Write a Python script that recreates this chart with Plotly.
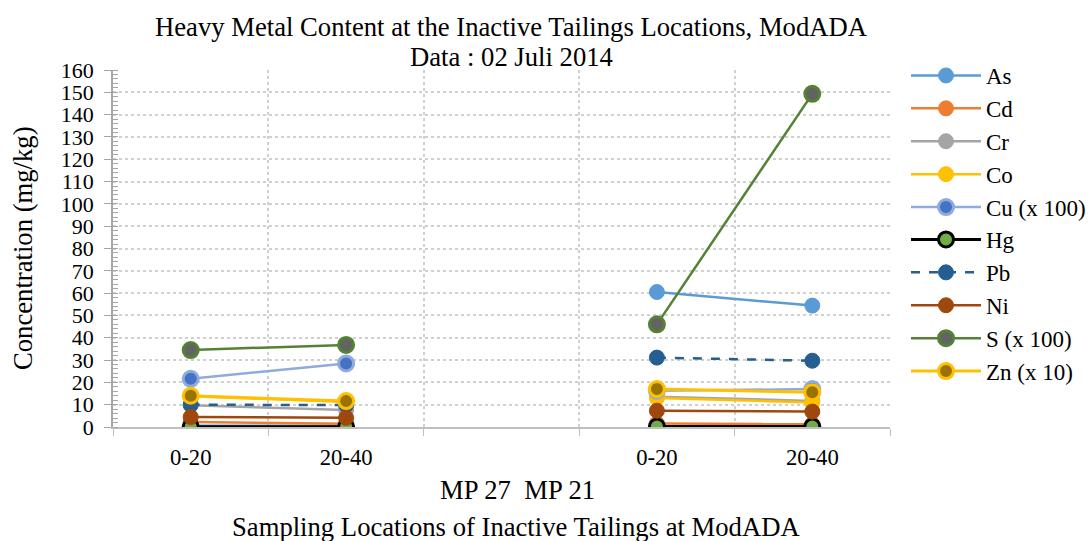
import plotly.graph_objects as go

categories = ["0-20", "20-40", "", "0-20", "20-40"]
locations = ["MP 27", "MP 21"]

# values per category slot (None for the empty slot)
As = [0.6, 0.6, None, 60.5, 54.4]
Cd = [2.2, 1.5, None, 1.6, 1.3]
Cr = [9.8, 7.6, None, 13.6, 11.7]
Co = [13.8, 11.2, None, 13.0, 11.0]
Cu = [21.6, 28.5, None, 16.2, 17.0]
Hg = [0.1, 0.1, None, 0.2, 0.2]
Pb = [10.0, 9.8, None, 31.1, 29.7]
Ni = [4.5, 4.1, None, 7.3, 6.9]
S = [34.5, 36.8, None, 46.0, 149.3]
Zn = [14.0, 11.6, None, 17.0, 15.6]

series = [
    ("As", As, dict(color="#5B9BD5", width=2.5), dict(color="#5B9BD5", line=dict(color="#5B9BD5", width=1))),
    ("Cd", Cd, dict(color="#ED7D31", width=2.5), dict(color="#ED7D31", line=dict(color="#ED7D31", width=1))),
    ("Cr", Cr, dict(color="#A5A5A5", width=2.5), dict(color="#A5A5A5", line=dict(color="#A5A5A5", width=1))),
    ("Co", Co, dict(color="#FFC000", width=2.5), dict(color="#FFC000", line=dict(color="#FFC000", width=1))),
    ("Cu (x 100)", Cu, dict(color="#8FAADC", width=2.5), dict(color="#4472C4", line=dict(color="#8FAADC", width=3))),
    ("Hg", Hg, dict(color="#000000", width=3), dict(color="#70AD47", line=dict(color="#000000", width=3))),
    ("Pb", Pb, dict(color="#255E91", width=2.5, dash="dash"), dict(color="#255E91", line=dict(color="#255E91", width=1))),
    ("Ni", Ni, dict(color="#9E480E", width=2.5), dict(color="#9E480E", line=dict(color="#9E480E", width=1))),
    ("S (x 100)", S, dict(color="#548235", width=2.5), dict(color="#636363", line=dict(color="#548235", width=3))),
    ("Zn (x 10)", Zn, dict(color="#FFC000", width=3), dict(color="#997300", line=dict(color="#FFC000", width=3))),
]

xpos = [i + 0.5 for i in range(len(categories))]

fig = go.Figure()
for i, (name, vals, line, marker) in enumerate(series):
    xs = [x for x, v in zip(xpos, vals) if v is not None]
    ys = [v for v in vals if v is not None]
    xs_seg = xs[:2] + [None] + xs[2:]
    ys_seg = ys[:2] + [None] + ys[2:]
    fig.add_trace(go.Scatter(
        x=xs_seg, y=ys_seg, name=name, mode="lines+markers",
        line=line, marker=dict(size=15, **marker),
        legend="legend" if i < 5 else "legend2",
        connectgaps=False,
    ))

font = "Liberation Serif, Times New Roman, serif"
tickvals = [x for x, c in zip(xpos, categories) if c]
ticktext = [c for c in categories if c]

L, R, T, B = 113, 890, 70, 427
W, H = R - L, B - T


def px(xp):
    return (xp - L) / W


def py(yp):
    return (B - yp) / H


big = 26.67
leg_common = dict(
    xref="container", yref="container", x=906 / 1092, xanchor="left", yanchor="top",
    font=dict(family=font, size=23, color="black"),
    itemwidth=70, tracegroupgap=0, bgcolor="rgba(0,0,0,0)",
)

fig.update_layout(
    width=1092, height=541,
    margin=dict(l=L, r=1092 - R, t=T, b=541 - B),
    paper_bgcolor="white", plot_bgcolor="white",
    font=dict(family=font, size=22, color="black"),
    showlegend=True,
    legend=dict(y=1 - 54 / 541, **leg_common),
    legend2=dict(y=1 - (54 + 5 * 32.8) / 541, **leg_common),
    xaxis=dict(
        range=[0, len(categories)], tickvals=tickvals, ticktext=ticktext,
        ticks="", showgrid=False, zeroline=False, ticklabelstandoff=9,
        showline=True, linecolor="#BFBFBF", linewidth=1.5,
        tickfont=dict(family=font, size=22.67, color="black"),
        minor=dict(tick0=0, dtick=1, ticks="outside", ticklen=7, tickcolor="#BFBFBF",
                   showgrid=True, gridcolor="#D0D0D0", griddash="dot", gridwidth=1.5),
        fixedrange=True,
    ),
    yaxis=dict(
        range=[0, 160], dtick=10, tick0=0, ticks="outside", ticklen=7, tickcolor="#A6A6A6",
        showgrid=True, gridcolor="#D0D0D0", griddash="dot", gridwidth=1.5,
        zeroline=False, showline=True, linecolor="#A6A6A6", linewidth=1.5,
        tickfont=dict(family=font, size=22, color="black"), ticklabelstandoff=6,
        minor=dict(dtick=2, ticks="inside", ticklen=5, tickcolor="#A6A6A6", showgrid=False),
        fixedrange=True,
    ),
    annotations=[
        dict(text="Heavy Metal Content at the Inactive Tailings Locations, ModADA",
             xref="paper", yref="paper", x=px(511), y=py(27), xanchor="center", yanchor="middle",
             showarrow=False, font=dict(family=font, size=big, color="black")),
        dict(text="Data : 02 Juli 2014",
             xref="paper", yref="paper", x=px(511), y=py(57), xanchor="center", yanchor="middle",
             showarrow=False, font=dict(family=font, size=big, color="black")),
        dict(text="Concentration (mg/kg)", textangle=-90,
             xref="paper", yref="paper", x=px(23), y=py(248), xanchor="center", yanchor="middle",
             showarrow=False, font=dict(family=font, size=big, color="black")),
        dict(text=("\u00a0\u00a0").join(locations), xref="paper", yref="paper", x=px(517), y=py(490),
             xanchor="center", yanchor="middle", showarrow=False,
             font=dict(family=font, size=big, color="black")),
        dict(text="Sampling Locations of Inactive Tailings at ModADA", xref="paper", yref="paper",
             x=px(516), y=py(527), xanchor="center", yanchor="middle", showarrow=False,
             font=dict(family=font, size=big, color="black")),
    ],
)

fig.write_html("out.html", config={"displayModeBar": False},
               post_script="document.body.style.margin='0';document.body.style.overflow='hidden';")
